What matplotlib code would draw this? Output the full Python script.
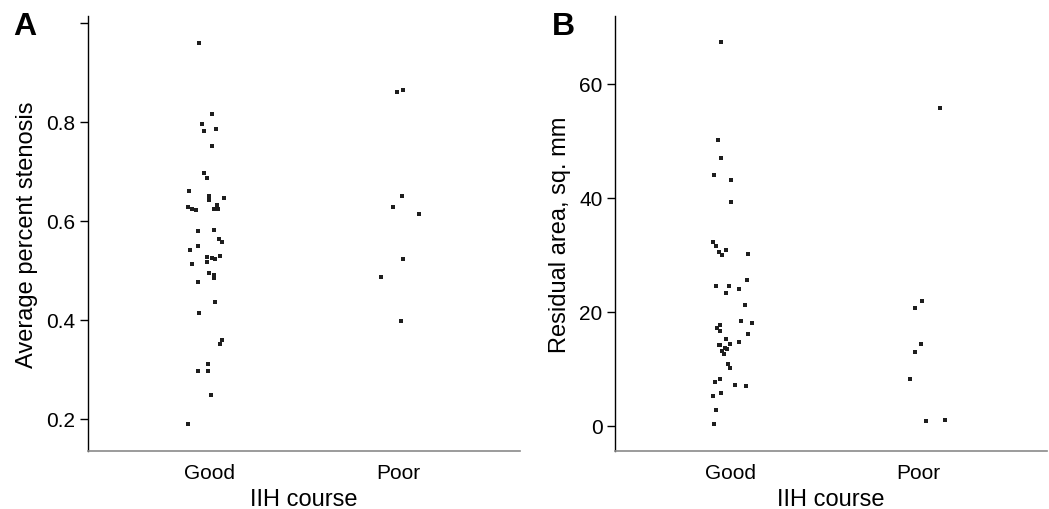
import numpy as np
import matplotlib
matplotlib.use('Agg')
from matplotlib import pyplot as plt

plt.rcParams['font.family'] = ['Liberation Sans', 'DejaVu Sans']

categories = ['Good', 'Poor']

# Panel A: average percent stenosis
stenosis_good = [0.960, 0.815, 0.795, 0.786, 0.782, 0.752, 0.696, 0.686, 0.661, 0.650,
                 0.643, 0.647, 0.629, 0.624, 0.621, 0.632, 0.624, 0.623, 0.580, 0.582,
                 0.563, 0.557, 0.549, 0.542, 0.528, 0.517, 0.525, 0.522, 0.529, 0.513,
                 0.494, 0.490, 0.485, 0.476, 0.436, 0.414, 0.360, 0.352, 0.311, 0.297,
                 0.296, 0.249, 0.190]
stenosis_good_jitter = [-0.055, 0.014, -0.039, 0.032, -0.032, 0.011, -0.028, -0.016, -0.108, -0.005,
                        -0.005, 0.073, -0.117, -0.094, -0.074, 0.036, 0.020, 0.046, -0.062, 0.021,
                        0.049, 0.064, -0.062, -0.104, -0.014, -0.017, 0.012, 0.028, 0.053, -0.092,
                        -0.005, 0.025, 0.025, -0.060, 0.027, -0.057, 0.067, 0.053, -0.007, -0.062,
                        -0.007, 0.005, -0.113]
stenosis_poor = [0.861, 0.865, 0.650, 0.628, 0.614, 0.523, 0.487, 0.397]
stenosis_poor_jitter = [-0.005, 0.027, 0.021, -0.028, 0.108, 0.027, -0.089, 0.016]

# Panel B: residual area, sq. mm
area_good = [67.3, 50.1, 47.0, 44.0, 43.2, 39.2, 32.3, 31.5, 30.5, 29.9,
             30.8, 30.2, 25.6, 24.6, 24.6, 24.0, 23.3, 21.2, 18.4, 18.1,
             17.7, 17.2, 16.7, 16.1, 15.3, 14.7, 14.2, 14.2, 14.3, 13.6,
             13.5, 13.2, 12.6, 10.9, 10.1, 8.2, 7.7, 7.1, 7.0, 5.8,
             5.2, 2.8, 0.4]
area_good_jitter = [-0.046, -0.065, -0.048, -0.086, 0.005, 0.004, -0.092, -0.073, -0.057, -0.041,
                    -0.021, 0.097, 0.090, -0.074, -0.007, 0.049, -0.023, 0.078, 0.060, 0.115,
                    -0.053, -0.071, -0.051, 0.097, -0.023, 0.046, -0.060, -0.051, 0.002, -0.028,
                    -0.016, -0.042, -0.033, -0.009, -0.002, -0.051, -0.081, 0.028, 0.085, -0.049,
                    -0.092, -0.073, -0.083]
area_poor = [55.7, 21.9, 20.6, 14.3, 13.0, 8.2, 0.8, 1.1]
area_poor_jitter = [0.115, 0.016, -0.020, 0.014, -0.020, -0.044, 0.037, 0.138]

# 顶部 1.0 刻度没有标签
stenosis_ticks = [0.2, 0.4, 0.6, 0.8, 1.0]
stenosis_tick_labels = ['0.2', '0.4', '0.6', '0.8', '']
area_ticks = [0, 20, 40, 60]
area_tick_labels = ['0', '20', '40', '60']


def strip_panel(ax, groups, jitters, xlim, ylim, yticks, yticklabels, ylabel, letter, letter_x):
    """绘制单个散点条带面板"""
    for idx, (vals, jit) in enumerate(zip(groups, jitters)):
        x = idx + np.asarray(jit)
        ax.plot(x, vals, linestyle='none', marker='s', markersize=3,
                color='#1e1e1e', markeredgewidth=0)

    ax.set_xlim(*xlim)
    ax.set_ylim(*ylim)
    ax.set_xticks(range(len(categories)))
    ax.set_xticklabels(categories)
    ax.set_yticks(yticks)
    ax.set_yticklabels(yticklabels)
    ax.set_xlabel('IIH course', fontsize=17, labelpad=4)
    ax.set_ylabel(ylabel, fontsize=17, labelpad=6)

    ax.tick_params(axis='x', length=0, pad=9, labelsize=15)
    ax.tick_params(axis='y', length=6, width=1, pad=3, labelsize=15)

    ax.spines['right'].set_visible(False)
    ax.spines['top'].set_visible(False)
    ax.spines['left'].set_linewidth(1)
    ax.spines['bottom'].set_linewidth(1.2)
    ax.spines['bottom'].set_color('#8a8a8a')

    ax.text(letter_x, 0.978, letter, transform=ax.transAxes, fontsize=23,
            fontweight='bold', ha='center', va='center')


fig = plt.figure(figsize=(10.49, 5.10), dpi=100)
ax_a = fig.add_axes([88 / 1049, 1 - 452 / 510, 432 / 1049, 435 / 510])
ax_b = fig.add_axes([615 / 1049, 1 - 452 / 510, 432 / 1049, 435 / 510])

strip_panel(ax_a, [stenosis_good, stenosis_poor], [stenosis_good_jitter, stenosis_poor_jitter],
            (-0.646, 1.646), (0.135, 1.014), stenosis_ticks, stenosis_tick_labels,
            'Average percent stenosis', 'A', -0.146)
strip_panel(ax_b, [area_good, area_poor], [area_good_jitter, area_poor_jitter],
            (-0.61, 1.68), (-4.4, 71.9), area_ticks, area_tick_labels,
            'Residual area, sq. mm', 'B', -0.120)

fig.savefig('out.png', dpi=100)
